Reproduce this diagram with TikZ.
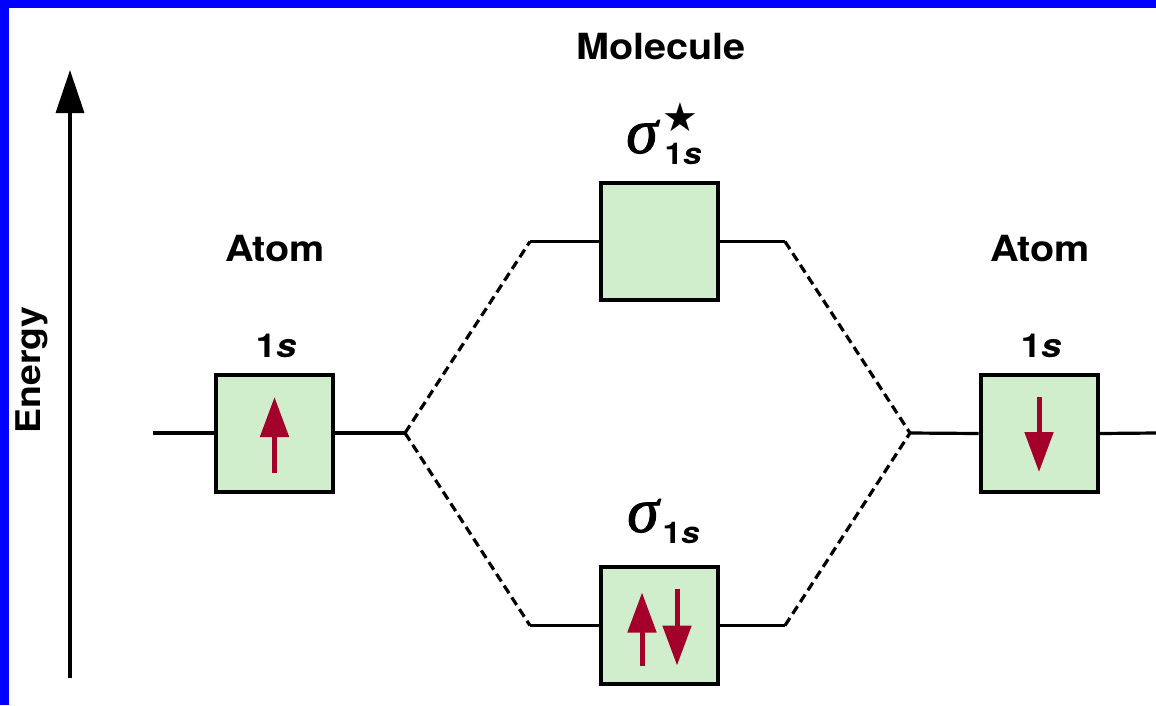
\documentclass[tikz,border=0pt]{standalone}
\usepackage{fontspec}
\setmainfont{TeX Gyre Heros}[FakeStretch=1.1]
\newfontfamily\sigfont{Liberation Serif}[FakeBold=1.5]
\newfontfamily\symfont{DejaVu Sans}
\usetikzlibrary{arrows.meta}
\definecolor{boxgreen}{RGB}{208,237,204}
\definecolor{spinred}{RGB}{163,0,43}
\definecolor{frameblue}{RGB}{0,0,255}
\tikzset{
  orbital/.style={draw=black, line width=4pt, fill=boxgreen, minimum size=117pt, inner sep=0pt},
  level/.style={line width=3.2pt},
  corr/.style={line width=3.2pt, dash pattern=on 9pt off 5pt},
  spin/.style={draw=spinred, line width=5pt, -{Triangle[width=28pt,length=40pt]}},
  lbl/.style={font=\fontsize{36}{40}\selectfont\bfseries, inner sep=0pt, anchor=base},
  onelbl/.style={font=\fontsize{33}{38}\selectfont\bfseries, inner sep=0pt, anchor=base},
  sig/.style={font=\fontsize{64}{68}\selectfont\sigfont\itshape, inner sep=0pt, anchor=base},
  sub/.style={font=\fontsize{30}{34}\selectfont\bfseries, inner sep=0pt, anchor=base},
  starlbl/.style={font=\fontsize{40}{44}\selectfont\symfont, inner sep=0pt},
}
\begin{document}
\begin{tikzpicture}[x=1pt,y=-1pt]
\useasboundingbox (0,0) rectangle (1156,705);
\fill[white] (0,0) rectangle (1156,705);
\fill[frameblue] (0,0) rectangle (1156,8);
\fill[frameblue] (0,0) rectangle (9,705);

% energy axis
\coordinate (eb) at (70,678);
\coordinate (et) at (70,70);
\draw[line width=3.5pt, -{Triangle[width=28pt,length=43pt]}] (eb) -- (et);
\node[lbl, font=\fontsize{34}{38}\selectfont\bfseries, rotate=90] (energy) at (40,370) {Energy};

% labels
\node[lbl] (molecule) at (661,59) {Molecule};
\node[lbl] (atomL) at (275,261) {Atom};
\node[lbl] (atomR) at (1040,261) {Atom};
\node[onelbl] (oneL) at (276,357) {1\textit{s}};
\node[onelbl] (oneR) at (1041,357) {1\textit{s}};

% orbitals
\node[orbital] (L) at (274.5,433) {};
\node[orbital] (R) at (1039,433.5) {};
\node[orbital] (T) at (659.5,241.5) {};
\node[orbital] (B) at (659.5,625.5) {};

% sigma labels
\node[sig] (sigT) at (642,153) {σ};
\node[sub] (subT) at (683,164) {1\textit{s}};
\node[starlbl] (starT) at (680,117) {★};
\node[sig] (sigB) at (643,532) {σ};
\node[sub] (subB) at (681,543) {1\textit{s}};

% connectors
\coordinate (lend) at (153,433);
\coordinate (lj) at (405,433);
\coordinate (tl) at (530,241.5);
\coordinate (tr) at (785,241.5);
\coordinate (bl) at (530,625.5);
\coordinate (br) at (785,625.5);
\coordinate (rj) at (910,433);
\coordinate (rend) at (1156,433);
\draw[level] (lend) -- (L.west);
\draw[level] (L.east) -- (lj);
\draw[corr] (lj) -- (tl);
\draw[corr] (lj) -- (bl);
\draw[level] (tl) -- (T.west);
\draw[level] (T.east) -- (tr);
\draw[level] (bl) -- (B.west);
\draw[level] (B.east) -- (br);
\draw[corr] (tr) -- (rj);
\draw[corr] (br) -- (rj);
\draw[level] (rj) -- (R.west);
\draw[level] (R.east) -- (rend);

% spins
\draw[spin] ([yshift=-40pt]L.center) -- ([yshift=36pt]L.center);
\draw[spin] ([yshift=36.5pt]R.center) -- ([yshift=-38.5pt]R.center);
\draw[spin] ([xshift=-17.5pt,yshift=-40pt]B.center) -- ([xshift=-17.5pt,yshift=33pt]B.center);
\draw[spin] ([xshift=17.5pt,yshift=37pt]B.center) -- ([xshift=17.5pt,yshift=-40pt]B.center);
\end{tikzpicture}
\end{document}
